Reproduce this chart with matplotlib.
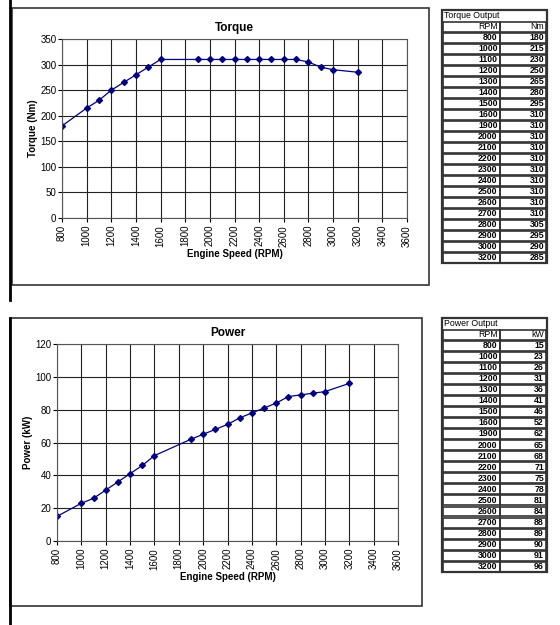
import matplotlib
matplotlib.use("Agg")
import matplotlib.pyplot as plt
from matplotlib.patches import Rectangle
from matplotlib.lines import Line2D

rpm = [800, 1000, 1100, 1200, 1300, 1400, 1500, 1600, 1900, 2000, 2100, 2200,
       2300, 2400, 2500, 2600, 2700, 2800, 2900, 3000, 3200]
torque = [180, 215, 230, 250, 265, 280, 295, 310, 310, 310, 310, 310,
          310, 310, 310, 310, 310, 305, 295, 290, 285]
power = [15, 23, 26, 31, 36, 41, 46, 52, 62, 65, 68, 71,
         75, 78, 81, 84, 88, 89, 90, 91, 96]
xticks = list(range(800, 3601, 200))

W, H = 560, 625
fig = plt.figure(figsize=(W/100, H/100), dpi=100)
plt.rcParams['font.family'] = ['Liberation Sans', 'DejaVu Sans']

def px(x0, y0, x1, y1):
    return [x0/W, 1-y1/H, (x1-x0)/W, (y1-y0)/H]

def box(x0, y0, x1, y1, lw=1.2):
    fig.patches.append(Rectangle((x0/W, 1-y1/H), (x1-x0)/W, (y1-y0)/H,
                                 transform=fig.transFigure, fill=False,
                                 edgecolor='#333333', lw=lw))

# left vertical rule
fig.add_artist(Line2D([10/W, 10/W], [1, 1-300/H], transform=fig.transFigure, color='black', lw=2))
fig.add_artist(Line2D([10/W, 10/W], [1-318/H, 0], transform=fig.transFigure, color='black', lw=2))

def chart(rect, boxr, y, ymax, ystep, title, ylabel):
    box(*boxr)
    ax = fig.add_axes(px(*rect))
    ax.plot(rpm, y, color='#000080', lw=0.9, marker='D', ms=3, mfc='#000080', mec='#000080')
    ax.set_xlim(800, 3600)
    ax.set_ylim(0, ymax)
    ax.set_xticks(xticks)
    ax.set_xticklabels([str(t) for t in xticks], rotation=90, fontsize=7)
    ax.set_yticks(range(0, ymax+1, ystep))
    ax.tick_params(axis='y', labelsize=7, length=3, pad=1)
    ax.tick_params(axis='x', length=3, pad=2)
    ax.grid(True, color='#222222', lw=0.8)
    ax.set_axisbelow(True)
    for s in ax.spines.values():
        s.set_color('#555555')
    ax.set_title(title, fontsize=8.5, fontweight='bold', pad=6)
    ax.set_xlabel('Engine Speed (RPM)', fontsize=7, fontweight='bold', labelpad=2)
    ax.set_ylabel(ylabel, fontsize=7, fontweight='bold', labelpad=2)
    return ax

chart((62, 39, 407, 218), (12, 8, 429, 285), torque, 350, 50, 'Torque', 'Torque (Nm)')
chart((57, 344, 398, 541), (10, 318, 422, 606), power, 120, 20, 'Power', 'Power (kW)')

def table(x0, y0, x1, y1, title, unit, vals):
    n = len(rpm) + 2
    rh = (y1 - y0) / n
    xm = x0 + (x1 - x0) * 0.55
    box(x0, y0, x1, y1, lw=1.6)
    def t(x, y, s, ha, bold):
        fig.text(x/W, 1-y/H, s, ha=ha, va='center', fontsize=6.3,
                 fontweight='bold' if bold else 'normal')
    t(x0+2, y0+rh/2, title, 'left', False)
    for i in range(1, n):
        yy = y0 + i*rh
        box(x0+1, yy+0.8, xm, yy+rh-0.3, lw=1.2)
        box(xm, yy+0.8, x1-1, yy+rh-0.3, lw=1.2)
    t(xm-2, y0+1.5*rh, 'RPM', 'right', False)
    t(x1-3, y0+1.5*rh, unit, 'right', False)
    for i, (r, v) in enumerate(zip(rpm, vals)):
        yc = y0 + (i+2.5)*rh
        t(xm-2, yc, str(r), 'right', True)
        t(x1-3, yc, str(v), 'right', True)

table(442, 10, 547, 263, 'Torque Output', 'Nm', torque)
table(442, 318, 547, 572, 'Power Output', 'kW', power)

fig.savefig('out.png', dpi=100)
